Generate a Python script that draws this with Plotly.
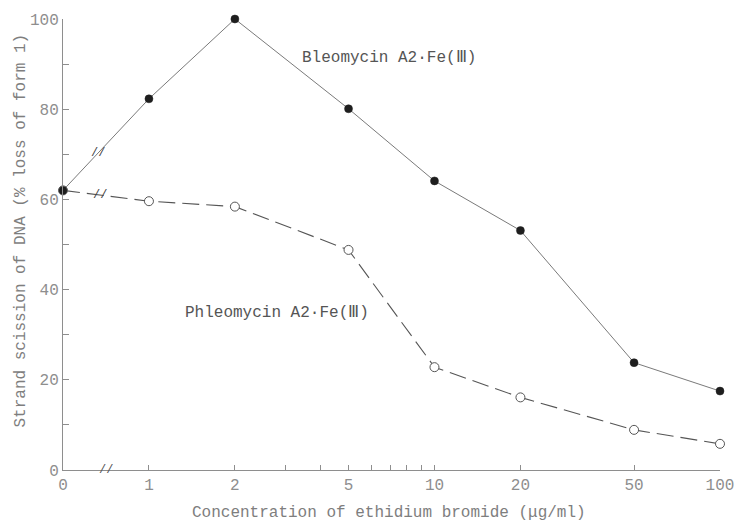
import math
import plotly.graph_objects as go

# ---------------- data ----------------
CONC = [0, 1, 2, 5, 10, 20, 50, 100]                      # ethidium bromide, ug/ml
BLEOMYCIN = [62.0, 82.3, 100.0, 80.1, 64.1, 53.1, 23.8, 17.5]
PHLEOMYCIN = [62.0, 59.6, 58.4, 48.8, 22.8, 16.1, 8.9, 5.8]

X_TICK_VALUES = [0, 1, 2, 3, 4, 5, 6, 7, 8, 9, 10, 20, 50, 100]
X_TICK_LABELS = ["0", "1", "2", "", "", "5", "", "", "", "", "10", "20", "50", "100"]
Y_TICK_VALUES = [0, 10, 20, 30, 40, 50, 60, 70, 80, 90, 100]
Y_TICK_LABELS = ["0", "", "20", "", "40", "", "60", "", "80", "", "100"]

BLEO_LABEL = "Bleomycin A2\u00b7Fe(\u2162)"
PHLEO_LABEL = "Phleomycin A2\u00b7Fe(\u2162)"
X_TITLE = "Concentration of ethidium bromide (\u03bcg/ml)"
Y_TITLE = "Strand scission of DNA (% loss of form 1)"

# the broken axis: concentration 0 is drawn one log2-step left of 1
ZERO_POS = 0.5


def xpos(v):
    return ZERO_POS if v == 0 else v


XP = [xpos(v) for v in CONC]
XT = [xpos(v) for v in X_TICK_VALUES]

FONT = "Liberation Mono, DejaVu Sans Mono, monospace"
TXT = "#7e7e7e"
AX = "#8e8e8e"

fig = go.Figure()

fig.add_trace(go.Scatter(
    x=XP, y=PHLEOMYCIN, mode="lines+markers", cliponaxis=False,
    line=dict(color="#555555", width=1.1, dash="17px,7px"),
    marker=dict(symbol="circle", size=9, color="white",
                line=dict(color="#555555", width=1)),
    showlegend=False))

fig.add_trace(go.Scatter(
    x=XP, y=BLEOMYCIN, mode="lines+markers", cliponaxis=False,
    line=dict(color="#7a7a7a", width=1),
    marker=dict(symbol="circle", size=8, color="#1e1e1e",
                line=dict(color="#1e1e1e", width=0.5)),
    showlegend=False))


# break marks on the first segment of each line and on the x axis
def seg_break(series, frac_x):
    lx0, lx1 = math.log10(XP[0]), math.log10(XP[1])
    lx = math.log10(frac_x)
    t = (lx - lx0) / (lx1 - lx0)
    return series[0] + t * (series[1] - series[0])


annotations = []
for series, bx in ((BLEOMYCIN, 0.665), (PHLEOMYCIN, 0.675)):
    annotations.append(dict(x=math.log10(bx), y=seg_break(series, bx), xref="x", yref="y",
                            text="//", showarrow=False,
                            font=dict(family=FONT, size=12, color="#444444")))
annotations.append(dict(x=math.log10(0.71), y=0, xref="x", yref="y", text="//",
                        showarrow=False, font=dict(family=FONT, size=12, color="#555555")))

# curve labels
annotations.append(dict(x=math.log10(3.37), y=91.4, xref="x", yref="y", text=BLEO_LABEL,
                        showarrow=False, xanchor="left", yanchor="middle",
                        font=dict(family=FONT, size=16, color="#555555")))
annotations.append(dict(x=math.log10(1.32), y=34.8, xref="x", yref="y", text=PHLEO_LABEL,
                        showarrow=False, xanchor="left", yanchor="middle",
                        font=dict(family=FONT, size=16, color="#555555")))

# axis titles
annotations.append(dict(x=0.5, y=0, xref="paper", yref="paper", text=X_TITLE,
                        showarrow=False, xanchor="center", yanchor="top", yshift=-32,
                        xshift=-3, font=dict(family=FONT, size=16, color=TXT)))
annotations.append(dict(x=0, y=0.5, xref="paper", yref="paper", text=Y_TITLE,
                        showarrow=False, xanchor="center", yanchor="middle", textangle=-90,
                        xshift=-43, yshift=14, font=dict(family=FONT, size=16, color=TXT)))

fig.update_layout(
    template="none",
    width=736, height=523,
    margin=dict(l=63, r=16, t=19, b=53, autoexpand=False),
    paper_bgcolor="white", plot_bgcolor="white",
    font=dict(family=FONT, size=15, color=AX),
    annotations=annotations,
    xaxis=dict(type="log", range=[math.log10(ZERO_POS), 2], automargin=False,
               tickmode="array", tickvals=XT, ticktext=X_TICK_LABELS,
               ticks="inside", ticklen=5, tickwidth=1, tickcolor=AX,
               showline=True, linecolor=AX, linewidth=1,
               showgrid=False, zeroline=False,
               tickfont=dict(family=FONT, size=16, color=AX)),
    yaxis=dict(range=[0, 100], tickmode="array", tickvals=Y_TICK_VALUES,
               ticktext=Y_TICK_LABELS, automargin=False,
               ticks="inside", ticklen=6, tickwidth=1, tickcolor=AX,
               showline=True, linecolor=AX, linewidth=1,
               showgrid=False, zeroline=False, ticklabelstandoff=0,
               tickfont=dict(family=FONT, size=16, color=AX)),
)

# remove the page's default body margin so the figure fills the window exactly
fig.write_html("out.html",
               config={"displayModeBar": False},
               post_script="document.body.style.margin='0';document.body.style.overflow='hidden';")
